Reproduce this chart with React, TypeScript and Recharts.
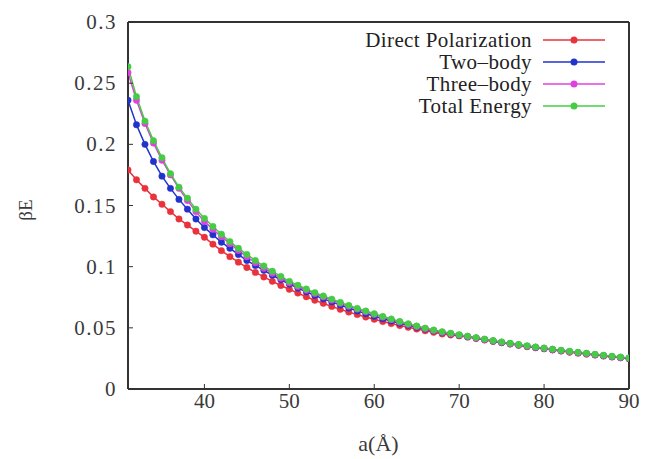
import React from "react"
import { Legend, Line, LineChart, ReferenceLine, XAxis, YAxis } from "recharts"

// separation a (Angstrom)
const aValues = [
  31, 32, 33, 34, 35, 36, 37, 38, 39, 40,
  41, 42, 43, 44, 45, 46, 47, 48, 49, 50,
  51, 52, 53, 54, 55, 56, 57, 58, 59, 60,
  61, 62, 63, 64, 65, 66, 67, 68, 69, 70,
  71, 72, 73, 74, 75, 76, 77, 78, 79, 80,
  81, 82, 83, 84, 85, 86, 87, 88, 89, 90,
]

const directPolarization = [
  0.179, 0.171, 0.164, 0.157, 0.151, 0.145, 0.139, 0.134, 0.129, 0.124,
  0.1184, 0.1131, 0.1082, 0.1037, 0.0993, 0.0953, 0.0916, 0.088, 0.0846, 0.0815,
  0.0784, 0.0754, 0.0726, 0.07, 0.0675, 0.0651, 0.0629, 0.0608, 0.0588, 0.057,
  0.0552, 0.0535, 0.0519, 0.0504, 0.049, 0.0476, 0.0463, 0.045, 0.0442, 0.0434,
  0.0424, 0.0412, 0.04, 0.0389, 0.0378, 0.0367, 0.0357, 0.0346, 0.0337, 0.0328,
  0.0319, 0.031, 0.0301, 0.0293, 0.0285, 0.0277, 0.0269, 0.0262, 0.0255, 0.0248,
]

const twoBody = [
  0.236, 0.216, 0.2, 0.186, 0.174, 0.164, 0.155, 0.147, 0.139, 0.132,
  0.126, 0.12, 0.115, 0.11, 0.105, 0.101, 0.097, 0.093, 0.0893, 0.0858,
  0.0825, 0.0794, 0.0764, 0.0737, 0.0712, 0.0686, 0.0662, 0.0638, 0.0616, 0.0595,
  0.0575, 0.0556, 0.0538, 0.0521, 0.0505, 0.049, 0.0475, 0.0461, 0.045, 0.0439,
  0.0428, 0.0416, 0.0404, 0.0392, 0.0381, 0.037, 0.036, 0.0349, 0.034, 0.0331,
  0.0322, 0.0313, 0.0304, 0.0296, 0.0288, 0.028, 0.0272, 0.0264, 0.0257, 0.025,
]

const threeBody = [
  0.2586, 0.236, 0.217, 0.201, 0.187, 0.175, 0.164, 0.154, 0.145, 0.137,
  0.1305, 0.1245, 0.1188, 0.1133, 0.1081, 0.1032, 0.0987, 0.0946, 0.0906, 0.0868,
  0.0838, 0.0808, 0.078, 0.0753, 0.0727, 0.0701, 0.0677, 0.0653, 0.0631, 0.061,
  0.0588, 0.0567, 0.0547, 0.0528, 0.0511, 0.0494, 0.0478, 0.0464, 0.0452, 0.044,
  0.0429, 0.0417, 0.0405, 0.0393, 0.0382, 0.0371, 0.0361, 0.035, 0.0341, 0.0332,
  0.0323, 0.0314, 0.0305, 0.0297, 0.0289, 0.0281, 0.0273, 0.0265, 0.0258, 0.0251,
]

const totalEnergy = [
  0.2635, 0.239, 0.219, 0.203, 0.189, 0.176, 0.165, 0.156, 0.147, 0.1395,
  0.1328, 0.1265, 0.1205, 0.115, 0.11, 0.105, 0.1005, 0.0962, 0.0921, 0.088,
  0.0848, 0.0817, 0.0788, 0.0761, 0.0735, 0.0708, 0.0683, 0.0659, 0.0637, 0.0615,
  0.0593, 0.0572, 0.0552, 0.0533, 0.0515, 0.0498, 0.0482, 0.0468, 0.0456, 0.0444,
  0.0432, 0.042, 0.0408, 0.0396, 0.0385, 0.0374, 0.0364, 0.0353, 0.0344, 0.0335,
  0.0326, 0.0317, 0.0308, 0.03, 0.0292, 0.0284, 0.0276, 0.0268, 0.0261, 0.0254,
]

const xTicks = [40, 50, 60, 70, 80, 90]
const yTicks = [0, 0.05, 0.1, 0.15, 0.2, 0.25, 0.3]

const series = [
  { key: "direct", name: "Direct Polarization", values: directPolarization, color: "#e8323c" },
  { key: "two", name: "Two\u2013body", values: twoBody, color: "#2233cc" },
  { key: "three", name: "Three\u2013body", values: threeBody, color: "#e040e0" },
  { key: "total", name: "Total Energy", values: totalEnergy, color: "#44cc44" },
]

const data = aValues.map((a, i) => {
  const row: Record<string, number> = { a }
  series.forEach((s) => {
    row[s.key] = s.values[i]
  })
  return row
})

const font = "'Liberation Serif', 'Times New Roman', serif"
const axisColor = "#333"
const textColor = "#3a3a3a"

const XTick = ({ x, y, payload }: any) => (
  <text x={x} y={y + 22} textAnchor="middle" style={{ fontFamily: font, fontSize: 21, fill: textColor }}>
    {payload.value}
  </text>
)

const YTick = ({ y, payload }: any) => (
  <text
    x={117}
    y={y + 7}
    textAnchor="end"
    style={{ fontFamily: font, fontSize: 21, letterSpacing: 1.5, fill: textColor }}
  >
    {payload.value}
  </text>
)

const LegendBox = () => (
  <div style={{ fontFamily: font, fontSize: 21, letterSpacing: 0.4, color: "#222" }}>
    {series.map((s) => (
      <div
        key={s.key}
        style={{ display: "flex", alignItems: "center", justifyContent: "flex-end", height: 22 }}
      >
        <span style={{ lineHeight: "22px" }}>{s.name}</span>
        <svg width={62} height={12} style={{ marginLeft: 11 }}>
          <line x1={0} y1={6} x2={62} y2={6} stroke={s.color} strokeWidth={1.5} />
          <circle cx={31} cy={6} r={3.5} fill={s.color} />
        </svg>
      </div>
    ))}
  </div>
)

export default function App() {
  return (
    <div style={{ position: "absolute", left: 0, top: 0, background: "#fff" }}>
      <LineChart
        width={647}
        height={459}
        data={data}
        margin={{ top: 21, right: 17, bottom: 0, left: 0 }}
      >
        <XAxis
          dataKey="a"
          type="number"
          domain={[31, 90]}
          ticks={xTicks}
          allowDataOverflow
          height={70}
          tickSize={-5}
          stroke={axisColor}
          axisLine={{ stroke: axisColor, strokeWidth: 2 }}
          tick={<XTick />}
          label={{
            value: "a(\u00c5)",
            position: "insideBottom",
            offset: 8,
            style: { fontSize: 22, fontFamily: font, fill: textColor },
          }}
        />
        <XAxis
          xAxisId="top"
          dataKey="a"
          type="number"
          orientation="top"
          domain={[31, 90]}
          ticks={xTicks}
          allowDataOverflow
          height={1}
          tickSize={-5}
          stroke={axisColor}
          axisLine={{ stroke: axisColor, strokeWidth: 2 }}
          tick={false}
        />
        <YAxis
          type="number"
          domain={[0, 0.3]}
          ticks={yTicks}
          width={128}
          tickSize={-5}
          stroke={axisColor}
          axisLine={{ stroke: axisColor, strokeWidth: 2 }}
          tick={<YTick />}
          label={{
            content: () => (
              <text
                x={25}
                y={210}
                transform="rotate(-90 25 210)"
                textAnchor="middle"
                dominantBaseline="central"
                style={{ fontSize: 19, fontFamily: font, fill: textColor }}
              >
                βE
              </text>
            ),
          }}
        />
        <YAxis
          yAxisId="right"
          type="number"
          orientation="right"
          domain={[0, 0.3]}
          ticks={yTicks}
          width={1}
          tickSize={-5}
          stroke={axisColor}
          axisLine={{ stroke: axisColor, strokeWidth: 2 }}
          tick={false}
        />
        <ReferenceLine y={0.3} stroke={axisColor} strokeWidth={2} ifOverflow="extendDomain" />
        <ReferenceLine x={90} stroke={axisColor} strokeWidth={2} ifOverflow="extendDomain" />
        <Legend
          layout="vertical"
          align="center"
          verticalAlign="middle"
          wrapperStyle={{ position: "absolute", left: 300, top: 29, width: 305 }}
          content={() => <LegendBox />}
        />
        {/* invisible copy so the top/right frame axes get a scale */}
        <Line
          xAxisId="top"
          yAxisId="right"
          dataKey="total"
          stroke="none"
          dot={false}
          legendType="none"
          isAnimationActive={false}
        />
        {series.map((s) => (
          <Line
            key={s.key}
            dataKey={s.key}
            name={s.name}
            type="linear"
            stroke={s.color}
            strokeWidth={1.5}
            dot={{ r: 3.2, fill: s.color, stroke: s.color, strokeWidth: 0.5 }}
            isAnimationActive={false}
          />
        ))}
      </LineChart>
    </div>
  )
}
